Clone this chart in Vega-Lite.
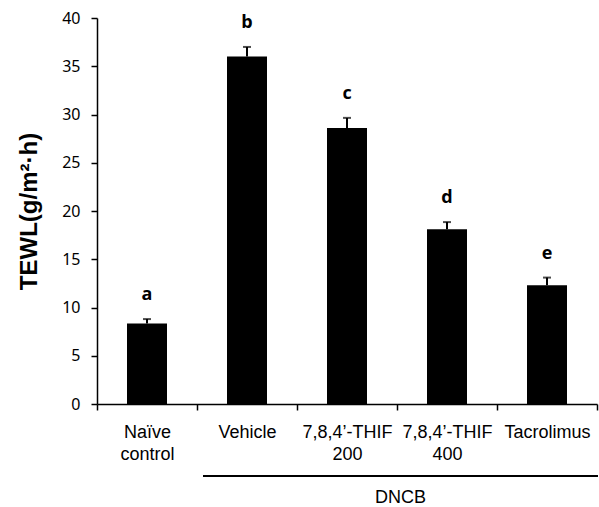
{
  "$schema": "https://vega.github.io/schema/vega-lite/v6.json",
  "width": 500,
  "height": 386,
  "autosize": {"type": "none"},
  "padding": {"left": 97, "top": 18, "right": 2, "bottom": 103},
  "background": "white",
  "config": {"view": {"stroke": null}, "font": "Liberation Sans"},
  "data": {
    "values": [
      {"group": "Naïve control", "mean": 8.35, "upper": 8.8, "letter": "a"},
      {"group": "Vehicle", "mean": 36.0, "upper": 37.0, "letter": "b"},
      {"group": "7,8,4’-THIF 200", "mean": 28.6, "upper": 29.65, "letter": "c"},
      {"group": "7,8,4’-THIF 400", "mean": 18.1, "upper": 18.85, "letter": "d"},
      {"group": "Tacrolimus", "mean": 12.3, "upper": 13.1, "letter": "e"}
    ]
  },
  "encoding": {
    "x": {
      "field": "group",
      "type": "nominal",
      "scale": {
        "domain": ["Naïve control", "Vehicle", "7,8,4’-THIF 200", "7,8,4’-THIF 400", "Tacrolimus"],
        "paddingInner": 0,
        "paddingOuter": 0
      },
      "axis": {
        "title": null,
        "labelAngle": 0,
        "tickBand": "extent",
        "labelExpr": "split(datum.label, ' ')",
        "labelFont": "Liberation Sans",
        "labelFontSize": 18,
        "labelColor": "black",
        "labelLineHeight": 22,
        "labelPadding": 13,
        "labelBaseline": "top",
        "labelOverlap": false,
        "labelLimit": 0,
        "tickSize": 6,
        "tickColor": "black",
        "tickWidth": 1.5,
        "domainColor": "black",
        "domainWidth": 1.5
      }
    }
  },
  "layer": [
    {
      "mark": {"type": "bar", "color": "black", "size": 40},
      "encoding": {
        "y": {
          "field": "mean",
          "type": "quantitative",
          "title": "TEWL(g/m²·h)",
          "scale": {"domain": [0, 40]},
          "axis": {
            "values": [0, 5, 10, 15, 20, 25, 30, 35, 40],
            "grid": false,
            "titleFont": "Liberation Sans",
            "titleFontSize": 24,
            "titleFontWeight": "bold",
            "titleColor": "black",
            "titlePadding": 20,
            "labelFont": "Noto Sans",
            "labelFontSize": 16,
            "labelColor": "black",
            "labelPadding": 11,
            "tickSize": 6,
            "tickColor": "black",
            "tickWidth": 1.5,
            "domainColor": "black",
            "domainWidth": 1.5
          }
        }
      }
    },
    {
      "mark": {"type": "rule", "color": "black", "strokeWidth": 2},
      "encoding": {
        "y": {"field": "mean", "type": "quantitative", "title": "TEWL(g/m²·h)"},
        "y2": {"field": "upper"}
      }
    },
    {
      "mark": {"type": "tick", "color": "black", "size": 8, "thickness": 2},
      "encoding": {
        "y": {"field": "upper", "type": "quantitative", "title": "TEWL(g/m²·h)"}
      }
    },
    {
      "mark": {"type": "text", "font": "Open Sans", "fontSize": 18, "fontWeight": "bold", "baseline": "alphabetic", "dy": -19, "color": "black"},
      "encoding": {
        "y": {"field": "upper", "type": "quantitative", "title": "TEWL(g/m²·h)"},
        "text": {"field": "letter"}
      }
    },
    {
      "data": {"values": [{"label": "DNCB", "from": "Vehicle", "to": "Tacrolimus", "mid": "7,8,4’-THIF 400"}]},
      "layer": [
        {
          "mark": {"type": "rule", "color": "black", "strokeWidth": 2},
          "encoding": {
            "x": {"field": "from", "type": "nominal", "bandPosition": 0.06},
            "x2": {"field": "to", "bandPosition": 1.01},
            "y": {"datum": -7.45, "type": "quantitative"}
          }
        },
        {
          "mark": {"type": "text", "font": "Liberation Sans", "fontSize": 18, "fontWeight": "normal", "baseline": "alphabetic", "color": "black"},
          "encoding": {
            "x": {"field": "mid", "type": "nominal", "bandPosition": 0.035},
            "y": {"datum": -10.3, "type": "quantitative"},
            "text": {"field": "label"}
          }
        }
      ]
    }
  ]
}
